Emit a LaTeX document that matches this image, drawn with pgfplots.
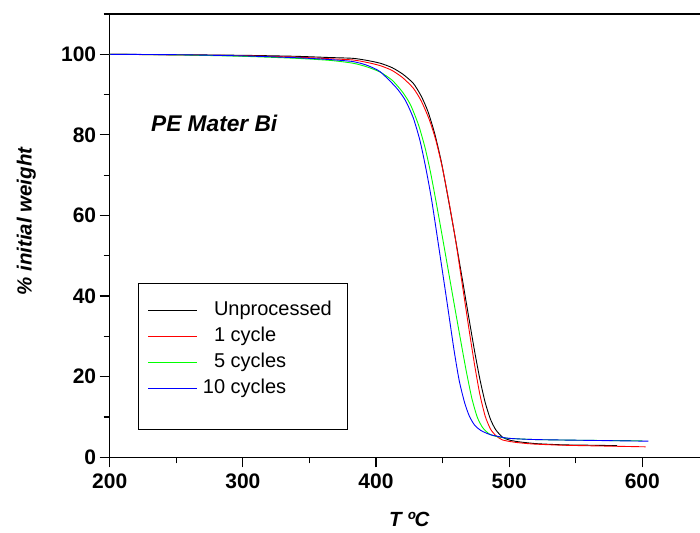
\documentclass[border=0pt]{standalone}
\usepackage{fontspec}
\setmainfont{Liberation Sans}
\usepackage{pgfplots}
\pgfplotsset{compat=1.18}

\pgfplotstableread{
T W
200 100
250 99.9
300 99.75
340 99.5
365 99.2
382.5 99.0
393 98.5
403 97.8
412 96.7
420 95.1
428 92.8
434 89.6
439 85.8
444 80.4
449 73.4
454 64.6
459 55.4
464 45.8
469 36.0
474 26.4
478 19.4
482 13.6
486 9.4
490 6.8
495 5.0
500 4.3
506 3.9
520 3.4
540 3.1
560 3.0
581 2.9
}\unprocessed

\pgfplotstableread{
T W
200 100
250 99.85
300 99.65
340 99.3
365 98.9
382.5 98.6
393 98.0
403 97.2
412 96.0
420 94.2
428 91.6
434 88.4
440 83.8
445 78.6
450 71.6
455 63.0
460 53.4
465 42.4
470 31.4
474 23.0
478 15.6
482 10.2
486 7.0
490 5.4
495 4.3
505 3.7
518 3.3
540 3.0
570 2.8
602.5 2.6
}\onecycle

\pgfplotstableread{
T W
200 100
250 99.85
300 99.5
340 99.0
365 98.5
382.5 97.8
393 96.9
403 95.6
412 93.6
420 90.6
426 87.4
432 82.4
437 76.6
441 70.6
445 63.6
450 54.4
455 45.0
460 35.6
464 28.2
468 21.0
472 14.6
476 10.0
480 7.4
485 5.8
490 5.2
495 4.9
500 4.7
520 4.4
560 4.2
600 4.1
}\fivecycles

\pgfplotstableread{
T W
200 100
250 99.9
300 99.6
340 99.15
365 98.7
382.5 98.2
393 97.3
403 95.7
415 91.8
422 88.6
428 84.2
433 78.6
437.5 71.6
441.8 63.8
447.5 51.4
453.1 39.0
458.6 26.6
462.5 19.0
466.5 13.6
470 10.3
474 8.0
479 6.6
486 5.6
493 5.1
500 4.7
520 4.4
560 4.2
604.5 4.0
}\tencycles

\begin{document}
\begin{tikzpicture}
\begin{axis}[
  at={(0pt,0pt)}, anchor=south west,
  scale only axis,
  width=599.2pt, height=443.3pt,
  xmin=200, xmax=650, ymin=0, ymax=110,
  xtick={200,300,400,500,600},
  ytick={0,20,40,60,80,100},
  minor xtick={250,350,450,550,650},
  minor ytick={10,30,50,70,90,110},
  tick align=outside,
  xtick pos=bottom, ytick pos=left,
  major tick length=10pt, minor tick length=6pt,
  axis line style={line width=1.2pt},
  every tick/.style={line width=1.2pt, black},
  /pgf/number format/assume math mode=true,
  tick label style={font=\fontsize{21}{25}\selectfont\bfseries},
  xticklabel style={yshift=-3pt},
  xlabel={T ºC},
  ylabel={\% initial weight},
  xlabel style={font=\fontsize{20.5}{24}\selectfont\bfseries\itshape, at={(axis description cs:0.5,0)}, anchor=base, yshift=-69.4pt},
  ylabel style={font=\fontsize{20.5}{24}\selectfont\bfseries\itshape, at={(axis description cs:0,0.532)}, anchor=base, yshift=78pt},
  legend style={at={(axis description cs:0.0467,0.3932)}, anchor=north west,
    draw=black, line width=0.6pt, fill=white,
    inner xsep=10pt, inner ysep=18pt, row sep=7pt, column sep=5pt,
    font=\fontsize{20}{24}\selectfont,
    nodes={inner sep=0pt, text depth=}},
  legend cell align=left,
  legend image code/.code={\draw[#1, line width=0.9pt] (0pt,0pt) -- (49pt,0pt);},
]
\addplot[black, line width=0.9pt, smooth, tension=0.4] table[x=T,y=W] {\unprocessed};
\addlegendentry{\rule[-4.5pt]{0pt}{19pt}\phantom{1}Unprocessed\rule{5pt}{0pt}}
\addplot[red, line width=0.9pt, smooth, tension=0.4] table[x=T,y=W] {\onecycle};
\addlegendentry{\rule[-4.5pt]{0pt}{19pt}\phantom{1}1 cycle}
\addplot[green, line width=0.9pt, smooth, tension=0.4] table[x=T,y=W] {\fivecycles};
\addlegendentry{\rule[-4.5pt]{0pt}{19pt}\phantom{1}5 cycles}
\addplot[blue, line width=0.9pt, smooth, tension=0.4] table[x=T,y=W] {\tencycles};
\addlegendentry{\rule[-4.5pt]{0pt}{19pt}10 cycles}
\addlegendimage{empty legend}
\addlegendentry{\rule{0pt}{6pt}}
\node[anchor=base west, inner sep=0pt, font=\fontsize{22.7}{27}\selectfont\bfseries\itshape] at (axis cs:231,80.8) {PE Mater Bi};
\end{axis}
\pgfresetboundingbox
\useasboundingbox (-109.7pt,-74.7pt) rectangle (590.3pt,457.3pt);
\end{tikzpicture}
\end{document}
